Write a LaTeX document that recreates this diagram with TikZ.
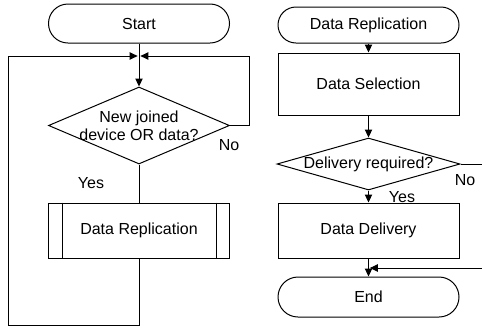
\documentclass[tikz,border=0pt]{standalone}
\usepackage{fontspec}
\setmainfont{Liberation Sans}
\usetikzlibrary{shapes.geometric,arrows.meta}
\begin{document}
\begin{tikzpicture}[x=0.75pt,y=-0.75pt,line width=0.75pt,
  every node/.style={font=\fontsize{12}{13.5}\selectfont},
  term/.style={draw,rectangle,minimum width=135.75pt,inner sep=0pt},
  procbox/.style={draw,rectangle,minimum width=135.75pt,inner sep=0pt},
  decbox/.style={draw,diamond,inner sep=0pt,aspect=1},
  lbl/.style={inner sep=0pt},
  arr/.style={-{Triangle[length=6pt,width=5.5pt]}}]
\useasboundingbox (0,0) rectangle (482,333);
% left flow
\node[term,minimum height=29.25pt,rounded corners=14.6pt] (start) at (139,23.5) {Start};
\coordinate (J) at (139,56);
\node[decbox,minimum width=135.75pt,minimum height=57.75pt] (d1) at (139,125.5) {};
\node[lbl,align=center] (d1t) at (d1.center) {New joined\\device OR data?};
\node[lbl] (no1) at (229,145) {No};
\node[lbl] (yes1) at (91,183) {Yes};
\node[procbox,minimum height=41.25pt] (dr) at (139,230.5) {Data Replication};
\draw ([xshift=10.5pt]dr.north west) -- ([xshift=10.5pt]dr.south west);
\draw ([xshift=-10.5pt]dr.north east) -- ([xshift=-10.5pt]dr.south east);
\coordinate (nr) at (249,125.5);
\coordinate (lb) at (139,325);
\coordinate (lbl1) at (8,325);
\coordinate (ltl) at (8,56);
\draw (start.south) -- (J);
\draw[arr] (J) -- (d1.north);
\draw[arr] (d1.east) -- (nr) -- (249,56) -- ([xshift=1pt]J);
\draw (d1.south) -- (dr.north);
\draw[arr] (dr.south) -- (lb) -- (lbl1) -- (ltl) -- ([xshift=-1pt]J);
% right flow
\node[term,minimum height=27pt,rounded corners=13.5pt] (rep) at (368.5,25) {Data Replication};
\node[procbox,minimum height=46.5pt] (sel) at (368.5,84) {Data Selection};
\node[decbox,minimum width=137.25pt,minimum height=39pt] (d2) at (368.5,164) {};
\node[lbl] (d2t) at (d2.center) {Delivery required?};
\node[lbl] (no2) at (465,180) {No};
\node[lbl] (yes2) at (402,197) {Yes};
\node[procbox,minimum height=41.25pt] (del) at (368.5,230.5) {Data Delivery};
\node[term,minimum height=30pt,rounded corners=15pt] (fin) at (368.5,297) {End};
\coordinate (noout) at (482,164);
\coordinate (back) at (482,268);
\coordinate (backin) at (368.5,268);
\draw[arr] (rep.south) -- (sel.north);
\draw[arr] (sel.south) -- (d2.north);
\draw (d2.east) -- (noout);
\draw[arr] (d2.south) -- (del.north);
\draw[arr] (del.south) -- (fin.north);
\draw[arr] (back) -- ([xshift=1pt]backin);
\end{tikzpicture}
\end{document}
